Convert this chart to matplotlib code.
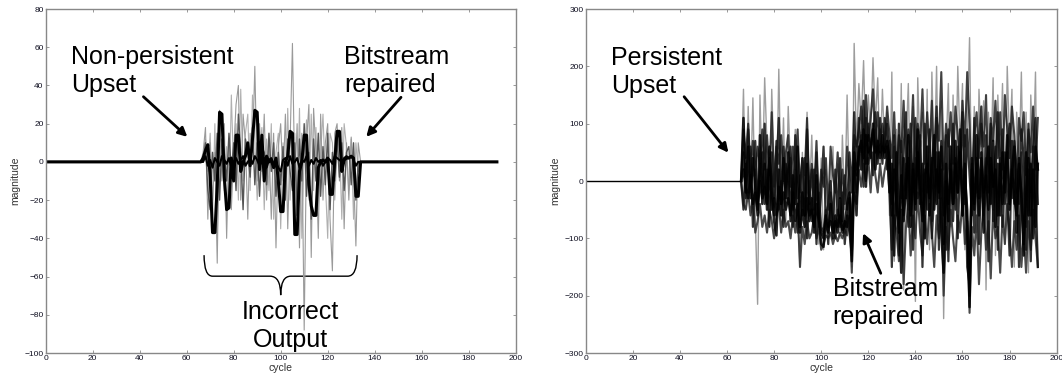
import numpy as np
import matplotlib
matplotlib.use("Agg")
import matplotlib.pyplot as plt
from matplotlib.path import Path
from matplotlib.patches import PathPatch

plt.rcParams['font.family'] = ['Liberation Sans', 'DejaVu Sans']

# ---- left panel: non-persistent upset, cycles 67..133 disturbed, zero elsewhere
n_cycles = 193
left_start = 67

left_thick = [2, 6, 9, -8, -37, -37, -12, 26, 25, -8,
              -25, -24, 2, -10, 14, 14, -5, 0, 3, 10,
              -2, 12, 27, 26, -4, 14, -10, 3, 0, 1,
              -3, 2, -10, -26, -26, 0, 3, 16, 15, -38,
              -38, -5, 0, 14, 14, -12, -23, -28, -28, -3,
              0, 1, 0, 2, -17, -17, 1, 16, 16, -5,
              1, 2, 2, 3, 2, -18, -18]
left_grey1 = [5, 18, -30, 10, -20, 5, -53, 27, -10, 20,
              -40, 10, -25, 5, 30, 40, -20, 25, 10, -30,
              15, 5, 50, -10, 20, -5, 25, -20, 10, -30,
              15, -45, 8, 20, -10, 25, -35, 10, 62, -10,
              20, -45, 15, -88, 10, 30, -50, 28, 5, -40,
              25, -20, 10, 20, -30, -57, 15, 20, -10, 18,
              -35, 10, -20, 13, -5, -44, 10]
left_grey2 = [3, 12, -5, 15, -28, 20, -40, 10, 5, -15,
              8, -25, 35, -5, 20, -20, 38, -10, 15, 25,
              -15, 35, 10, -20, 5, 18, -25, 12, -15, 20,
              -30, 5, 15, -35, 10, -15, 28, -20, 8, 15,
              -25, 28, -40, 5, 22, -20, 25, -15, 18, -25,
              5, 25, -10, -40, 15, 10, -20, 5, 12, -30,
              20, 8, -15, 12, -30, 10, -5]
left_grey3 = [0, 10, -15, -25, 5, -10, 15, -20, 12, 5,
              -10, 15, -5, 10, -15, 25, 5, -25, 12, 5,
              -8, 18, -12, 10, -18, 8, 5, -12, 15, -5,
              10, -18, 5, -12, 8, -20, 12, -5, -15, 10,
              -28, 12, -10, 20, -18, 5, -30, 12, -10, 15,
              -18, 8, -12, 15, -25, 5, -10, 12, -8, 10,
              -15, 5, 8, -12, 10, -20, 0]
left_small = [0, 3, -2, 1, -3, 2, 0, -2, 3, 1,
              -1, 2, -3, 0, 2, -1, 1, 3, -2, 0,
              2, -1, 3, 1, -2, 0, 2, -3, 1, 2,
              -1, 0, -3, -5, 1, 2, -2, 3, -1, 0,
              2, -3, 1, 0, 3, -2, 1, -1, 2, 0,
              1, -2, 0, 2, 1, -1, 3, 2, 1, 0,
              2, 3, 2, 3, 1, -2, 0]

# ---- right panel: persistent upset from cycle 66 on
right_start = 66
right_s1 = [0, 110, -20, 60, -30, 40, -10, -60, 80, -40,
            30, -50, 60, -20, -70, -95, 20, -60, 40, -30,
            50, -70, 10, -40, 60, -80, -20, -60, 30, -70,
            -30, -90, 10, -60, -110, -115, -70, -90, -40, -100,
            -60, -90, -30, -85, -80, -40, -20, -140, 30, -60,
            60, 20, 90, -10, 80, 40, 100, 20, 70, 50,
            80, 40, 60, -20, 30, -130, 50, -60, -160, 40,
            -30, 80, -80, 20, -50, 90, -40, 30, -100, 60,
            -60, 20, 80, -40, 50, -90, -160, 30, -70, 60,
            -40, 70, -20, 90, -60, 30, -80, -220, 40, -50,
            80, -30, 50, -90, 20, 60, -40, 70, -80, 30,
            -60, 50, -20, 80, -40, 20, 60, -90, 40, -30,
            -130, 50, -60, 30, -100, 60, 20]
right_s2 = [0, 50, -30, 90, -10, 20, 70, -40, 30, -20,
            100, -30, 40, 10, -60, 20, 110, -40, 60, -10,
            20, 40, -50, 80, -30, -10, 40, -60, 90, -40,
            20, -50, 50, -80, -20, 60, -70, -40, 0, -80,
            20, -60, 40, -70, 10, -50, 50, -20, 120, 20,
            110, 50, 140, 30, 100, 60, 80, 120, 40, 90,
            30, 110, 20, 70, -40, 80, -60, 100, -30, 60,
            120, -50, 70, -20, 110, 10, 80, -60, 100, -20,
            90, -70, 40, 130, -30, 70, 10, -120, 90, -20,
            100, -50, 60, 20, 120, -40, 90, 10, -60, 110,
            -20, 70, 130, -50, 40, -20, 100, -70, 30, 120,
            10, 90, -40, 60, 100, -30, 70, 20, -40, 90,
            40, -80, 100, -20, 60, 110, -40]
right_s3 = [0, 160, -50, 130, -20, 145, -60, -215, 150, -10,
            180, 60, -80, 160, 30, -40, 195, -20, 110, -70,
            130, 20, -30, 90, -60, -150, 50, -100, 120, -30,
            80, -60, -10, -110, 40, -120, 20, -80, -30, 60,
            -90, 30, -100, 80, -50, 150, -30, -150, 240, 60,
            170, 100, 210, 50, 150, 80, 215, 100, 180, 30,
            160, 50, 120, -60, 190, -140, 90, -80, 170, -190,
            60, 170, -40, 130, -210, 180, 40, 120, -60, 160,
            -120, 190, 20, 200, -70, 140, -240, 50, 170, -80,
            150, -30, 200, 60, 170, -120, 80, 250, -60, 130,
            -90, 160, 60, 140, -190, 120, 20, 180, -130, 150,
            30, 170, -110, 200, 60, 160, -150, 120, 20, 190,
            -50, 120, -160, 150, 30, 190, -150]
right_s4 = [0, -50, 30, -20, 60, -80, 20, -40, 10, 50,
            -40, 20, -80, 50, -30, 70, -50, 0, -80, 30,
            -40, 60, -80, 20, -90, 10, -60, 40, -100, 0,
            -70, 20, -110, -20, -80, -90, -50, -110, -20, -60,
            -100, -50, -80, -20, -110, -60, -90, -130, 60, -20,
            40, 80, -10, 110, 30, 60, 10, 90, 30, 110,
            40, 70, 100, 30, -150, 60, -20, -130, 70, -60,
            30, -80, 100, -120, 40, -30, 70, -150, 20, -50,
            60, -100, -20, 50, -120, 20, -60, 80, -140, 30,
            -70, 40, -100, 50, -20, 80, -150, -180, 30, -90,
            40, -110, 20, -60, 80, -140, 30, -50, 60, -120,
            40, -80, 50, -30, -130, 70, -40, 20, -150, 50,
            -60, -120, 20, -140, 60, -30, -150]
right_s5 = [0, -40, -50, -20, -60, -30, -90, -70, -40, -80,
            -60, -90, -50, -70, -100, -60, -40, -90, -50, -80,
            -70, -100, -60, -90, -50, -150, -80, -110, -70, -100,
            -90, -60, -100, -80, -120, -110, -95, -100, -90, -110,
            -95, -105, -90, -100, -85, -95, -60, -160, -20, -40,
            20, -10, 30, 0, 40, -20, 50, 10, -20, 30,
            -10, 20, 40, -20, -120, -60, -90, -140, -50, -180,
            -80, -40, -130, -60, -100, -20, -90, -130, -60, -110,
            -40, -90, -150, -60, -100, -30, -200, -80, -120, -50,
            -100, -140, -60, -90, -30, -110, -70, -230, -80, -130,
            -60, -180, -90, -40, -120, -70, -170, -50, -100, -80,
            -160, -60, -110, -40, -90, -150, -70, -120, -60, -150,
            -90, -160, -70, -120, -50, -100, -150]
right_s6 = [0, 90, 40, 100, 20, 70, 10, 60, 30, 90,
            20, 80, 10, 120, -10, 60, 30, 80, 0, 50,
            80, -10, 60, 20, 90, -20, 40, 10, 110, -30,
            30, -20, 70, -40, 20, -10, 40, -50, 60, 10,
            -20, 50, -30, 20, -40, 60, 0, -100, 80, 60,
            90, 130, 60, 150, 70, 110, 160, 60, 120, 70,
            100, 60, 130, 80, 40, 120, 10, 80, 50, 140,
            20, 90, 50, 150, 10, 100, 60, 160, 30, 120,
            50, 140, -10, 110, 70, 190, 20, 100, 60, 120,
            30, 130, 80, 20, 140, 60, 190, 100, -30, 80,
            120, 40, 100, 60, 150, -10, 110, 70, 140, 40,
            120, 20, 150, 90, 40, 130, 80, -20, 110, 70,
            120, 10, 90, 50, 130, 20, 110]
right_s7 = [0, 20, -10, -30, 10, -40, -20, -50, 0, -30,
            -10, -40, 20, -50, -30, -60, -10, -40, -20, -50,
            -30, -60, -20, -70, -40, -90, -50, -80, -30, -60,
            -50, -80, -40, -70, -90, -100, -60, -80, -70, -90,
            -70, -80, -60, -90, -70, -80, -30, -120, 50, 10,
            50, 70, 40, 80, 50, 60, 90, 50, 60, 40,
            60, 50, 70, 40, -60, 20, -40, -90, 10, -70,
            -10, 40, -60, 30, -40, 50, -20, -70, 10, 30,
            -30, 40, -50, 20, -20, 60, -110, 0, -40, 20,
            -40, 30, -20, 50, -60, 10, -50, -200, 20, -40,
            30, -60, 40, -20, 10, -50, 40, -10, 20, -60,
            30, -40, 10, 50, -50, 20, -30, -60, 30, -20,
            -110, -30, 40, -60, 20, -80, 30]


def pad_left(vals):
    # zero before the upset and after the repair
    vals = np.asarray(vals, dtype=float)
    tail = n_cycles - left_start - len(vals)
    return np.concatenate([np.zeros(left_start), vals, np.zeros(max(tail, 0))])


def style_axes(ax, ylim, yticks):
    ax.set_xlim(0, 200)
    ax.set_ylim(*ylim)
    ax.set_xticks(range(0, 201, 20))
    ax.set_yticks(yticks)
    ax.tick_params(direction='in', length=2.5, width=0.6, labelsize=6,
                   top=True, right=True, colors='#888888', labelcolor='#111122', pad=1.5)
    for sp in ax.spines.values():
        sp.set_color('#888888')
        sp.set_linewidth(1.0)
    ax.set_xlabel('cycle', fontsize=7.5, color='#333333', labelpad=1)
    ax.set_ylabel('magnitude', fontsize=7.5, color='#333333', labelpad=3)


def arrow(ax, start, tip):
    ax.annotate('', xy=tip, xytext=start,
                arrowprops=dict(arrowstyle='-|>', color='black', lw=2,
                                mutation_scale=13, shrinkA=0, shrinkB=0))


fig = plt.figure(figsize=(10.62, 3.85), dpi=100)
ax1 = fig.add_axes([0.0430, 0.0831, 0.4426, 0.8935])
ax2 = fig.add_axes([0.5515, 0.0831, 0.4435, 0.8935])

# left
cyc = np.arange(n_cycles)
ax1.plot(cyc, pad_left(left_grey2), color='#b0b0b0', lw=0.8)
ax1.plot(cyc, pad_left(left_grey1), color='#9a9a9a', lw=0.8)
ax1.plot(cyc, pad_left(left_grey3), color='#555555', lw=1.0)
ax1.plot(cyc, pad_left(left_small), color='black', lw=1.5)
ax1.plot(cyc, pad_left(left_thick), color='black', lw=2.2)
style_axes(ax1, (-100, 80), range(-100, 81, 20))

ax1.text(10.8, 61, 'Non-persistent\nUpset', fontsize=18, va='top', ha='left')
ax1.text(127.0, 61, 'Bitstream\nrepaired', fontsize=18, va='top', ha='left')
ax1.text(104.1, -72.4, 'Incorrect\nOutput', fontsize=18, va='top', ha='center')
arrow(ax1, (41.6, 34.1), (60.3, 13.1))
arrow(ax1, (151.2, 33.8), (136.4, 13.1))

# brace under the disturbed region
bx = [67.4, 71.0, 95.5, 100.0, 104.3, 128.5, 132.5]
by_top, by_mid, by_tip = -48.8, -59.8, -69.7
verts = [(bx[0], by_top), (bx[0], by_mid), (bx[1], by_mid),
         (bx[2], by_mid), (bx[3], by_mid), (bx[3], by_tip),
         (bx[3], by_mid), (bx[4], by_mid),
         (bx[5], by_mid), (bx[6], by_mid), (bx[6], by_top)]
codes = [Path.MOVETO, Path.CURVE3, Path.CURVE3,
         Path.LINETO, Path.CURVE3, Path.CURVE3,
         Path.CURVE3, Path.CURVE3,
         Path.LINETO, Path.CURVE3, Path.CURVE3]
ax1.add_patch(PathPatch(Path(verts, codes), fill=False, color='black', lw=1.0))

# right
ax2.plot(np.arange(right_start + 1), np.zeros(right_start + 1), color='black', lw=1.0)
right_series = [(right_s3, '#8c8c8c', 1.0), (right_s5, '#2a2a2a', 1.5),
                (right_s6, '#202020', 1.5), (right_s2, '#111111', 1.6),
                (right_s4, '#111111', 1.6), (right_s7, 'black', 1.8),
                (right_s1, 'black', 1.8)]
for vals, col, lw in right_series:
    x = np.arange(right_start, right_start + len(vals))
    ax2.plot(x, vals, color=col, lw=lw, alpha=0.85)
style_axes(ax2, (-300, 300), range(-300, 301, 100))

ax2.text(10.7, 235, 'Persistent\nUpset', fontsize=18, va='top', ha='left')
ax2.text(104.9, -167, 'Bitstream\nrepaired', fontsize=18, va='top', ha='left')
arrow(ax2, (41.8, 147), (60.6, 49.4))
arrow(ax2, (125.3, -161), (117.8, -91))

fig.savefig('out.png', dpi=100)
